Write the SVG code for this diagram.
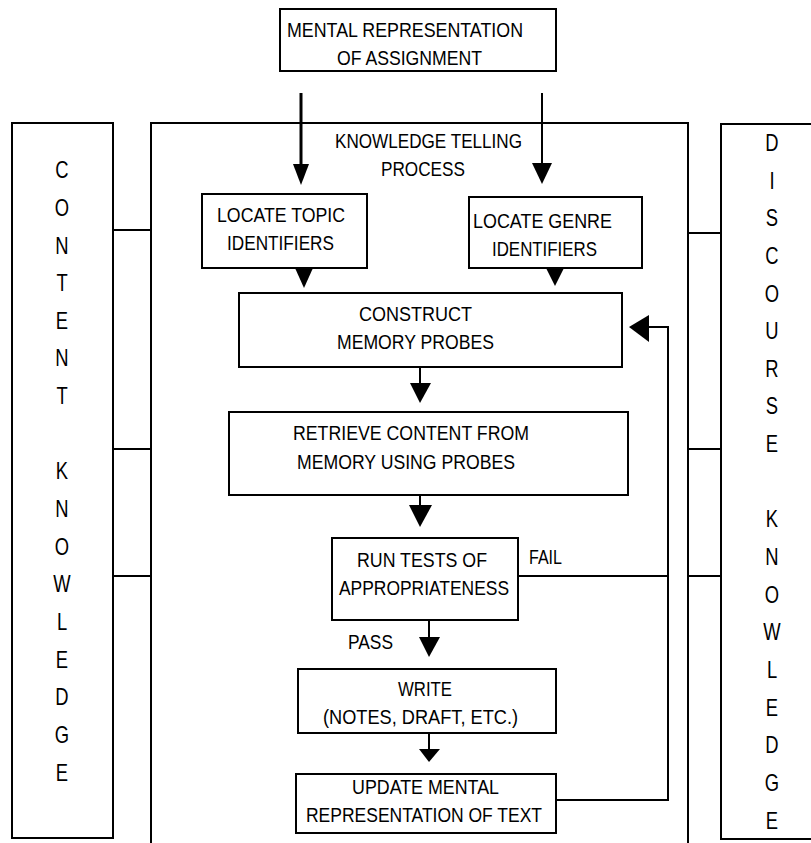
<svg xmlns="http://www.w3.org/2000/svg" width="811" height="843" viewBox="0 0 811 843">
  <style>
    .box { fill: #fff; stroke: #000; stroke-width: 2; }
    .frame { fill: none; stroke: #000; stroke-width: 2; }
    .line { fill: none; stroke: #000; stroke-width: 2; }
    .thick { stroke-width: 3; }
    .head { fill: #000; stroke: none; }
    .t { font-family: "Liberation Sans", Arial, sans-serif; font-size: 20px; fill: #000; }
    .v { font-family: "Liberation Sans", Arial, sans-serif; font-size: 23px; fill: #000; text-anchor: middle; }
  </style>
  <rect width="811" height="843" fill="#fff"/>

  <!-- side knowledge stores (letters narrowed horizontally) -->
  <g id="content-knowledge">
    <rect class="box" x="12" y="123" width="101" height="715"/>
    <text class="v" transform="translate(62,0) scale(0.8,1)">
      <tspan x="0" y="178">C</tspan><tspan x="0" y="216">O</tspan><tspan x="0" y="254">N</tspan><tspan x="0" y="291">T</tspan><tspan x="0" y="329">E</tspan><tspan x="0" y="366">N</tspan><tspan x="0" y="404">T</tspan><tspan x="0" y="479">K</tspan><tspan x="0" y="517">N</tspan><tspan x="0" y="555">O</tspan><tspan x="0" y="592">W</tspan><tspan x="0" y="630">L</tspan><tspan x="0" y="668">E</tspan><tspan x="0" y="705">D</tspan><tspan x="0" y="743">G</tspan><tspan x="0" y="781">E</tspan>
    </text>
  </g>

  <g id="discourse-knowledge">
    <path class="frame" d="M812,124 H721 V839 H812"/>
    <text class="v" transform="translate(772,0) scale(0.8,1)">
      <tspan x="0" y="151">D</tspan><tspan x="0" y="189">I</tspan><tspan x="0" y="226">S</tspan><tspan x="0" y="264">C</tspan><tspan x="0" y="302">O</tspan><tspan x="0" y="339">U</tspan><tspan x="0" y="377">R</tspan><tspan x="0" y="414">S</tspan><tspan x="0" y="452">E</tspan><tspan x="0" y="527">K</tspan><tspan x="0" y="565">N</tspan><tspan x="0" y="603">O</tspan><tspan x="0" y="640">W</tspan><tspan x="0" y="678">L</tspan><tspan x="0" y="716">E</tspan><tspan x="0" y="753">D</tspan><tspan x="0" y="791">G</tspan><tspan x="0" y="829">E</tspan>
    </text>
  </g>

  <!-- process frame -->
  <g id="knowledge-telling-process">
    <path class="frame" d="M151,844 V123 H688 V844"/>
    <text class="t" x="335" y="148" textLength="187" lengthAdjust="spacingAndGlyphs">KNOWLEDGE TELLING</text>
    <text class="t" x="381" y="176" textLength="84" lengthAdjust="spacingAndGlyphs">PROCESS</text>
  </g>

  <g id="mental-representation">
    <rect class="box" x="280" y="9" width="276" height="62"/>
    <text class="t" x="287" y="37" textLength="236" lengthAdjust="spacingAndGlyphs">MENTAL REPRESENTATION</text>
    <text class="t" x="337" y="65" textLength="145" lengthAdjust="spacingAndGlyphs">OF ASSIGNMENT</text>
  </g>

  <g id="locate-topic">
    <rect class="box" x="202" y="194" width="165" height="74"/>
    <text class="t" x="217" y="222" textLength="128" lengthAdjust="spacingAndGlyphs">LOCATE TOPIC</text>
    <text class="t" x="227" y="250" textLength="107" lengthAdjust="spacingAndGlyphs">IDENTIFIERS</text>
  </g>

  <g id="locate-genre">
    <rect class="box" x="469" y="197" width="173" height="71"/>
    <text class="t" x="473" y="228" textLength="139" lengthAdjust="spacingAndGlyphs">LOCATE GENRE</text>
    <text class="t" x="492" y="256" textLength="105" lengthAdjust="spacingAndGlyphs">IDENTIFIERS</text>
  </g>

  <g id="construct-probes">
    <rect class="box" x="239" y="293" width="383" height="74"/>
    <text class="t" x="359" y="321" textLength="113" lengthAdjust="spacingAndGlyphs">CONSTRUCT</text>
    <text class="t" x="337" y="349" textLength="157" lengthAdjust="spacingAndGlyphs">MEMORY PROBES</text>
  </g>

  <g id="retrieve-content">
    <rect class="box" x="229" y="412" width="399" height="83"/>
    <text class="t" x="293" y="440" textLength="236" lengthAdjust="spacingAndGlyphs">RETRIEVE CONTENT FROM</text>
    <text class="t" x="297" y="469" textLength="218" lengthAdjust="spacingAndGlyphs">MEMORY USING PROBES</text>
  </g>

  <g id="run-tests">
    <rect class="box" x="332" y="538" width="186" height="82"/>
    <text class="t" x="357" y="567" textLength="130" lengthAdjust="spacingAndGlyphs">RUN TESTS OF</text>
    <text class="t" x="339" y="595" textLength="170" lengthAdjust="spacingAndGlyphs">APPROPRIATENESS</text>
  </g>

  <g id="write">
    <rect class="box" x="298" y="669" width="258" height="64"/>
    <text class="t" x="398" y="696" textLength="54" lengthAdjust="spacingAndGlyphs">WRITE</text>
    <text class="t" x="323" y="724" textLength="195" lengthAdjust="spacingAndGlyphs">(NOTES, DRAFT, ETC.)</text>
  </g>

  <g id="update-representation">
    <rect class="box" x="296" y="774" width="260" height="59"/>
    <text class="t" x="352" y="794" textLength="147" lengthAdjust="spacingAndGlyphs">UPDATE MENTAL</text>
    <text class="t" x="306" y="822" textLength="236" lengthAdjust="spacingAndGlyphs">REPRESENTATION OF TEXT</text>
  </g>

  <!-- connectors -->
  <g id="connectors">
    <!-- links from the process frame to the knowledge stores -->
    <path class="line" d="M113,230 H151 M113,449 H151 M113,576 H151"/>
    <path class="line" d="M688,233 H721 M688,449 H721 M688,576 H721"/>

    <!-- assignment into the process -->
    <path class="line thick" d="M301,93 V166"/>
    <polygon class="head" points="293,164 309,164 301,185"/>
    <path class="line" d="M542,93 V165"/>
    <polygon class="head" points="532,163 552,163 542,184"/>

    <!-- identifiers into probe construction -->
    <polygon class="head" points="295,268 313,268 304,288"/>
    <polygon class="head" points="546,268 564,268 555,286"/>

    <!-- main flow -->
    <path class="line" d="M420,367 V385"/>
    <polygon class="head" points="410,383 431,383 420,403"/>
    <path class="line" d="M420,495 V507"/>
    <polygon class="head" points="409,505 432,505 420,527"/>
    <path class="line" d="M429,620 V639"/>
    <polygon class="head" points="419,637 440,637 429,657"/>
    <path class="line" d="M429,733 V751"/>
    <polygon class="head" points="419,749 440,749 429,762"/>

    <!-- fail / update loop back to probe construction -->
    <path class="line" d="M518,576 H668"/>
    <path class="line" d="M556,800 H668 V327 H647"/>
    <polygon class="head" points="649,315 649,342 629,327"/>

    <text class="t" x="529" y="564" textLength="33" lengthAdjust="spacingAndGlyphs">FAIL</text>
    <text class="t" x="348" y="649" textLength="45" lengthAdjust="spacingAndGlyphs">PASS</text>
  </g>
</svg>
